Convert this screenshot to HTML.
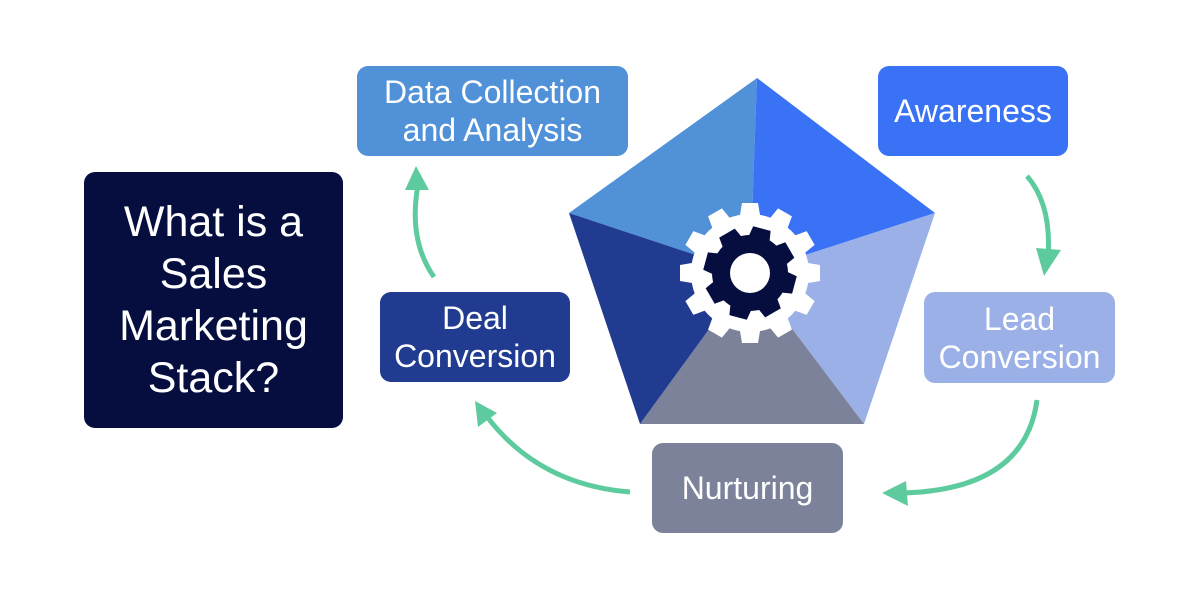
<!DOCTYPE html>
<html><head><meta charset="utf-8"><style>
body{margin:0;width:1200px;height:600px;background:#fff;overflow:hidden;position:relative;font-family:"Liberation Sans",sans-serif}
.b{position:absolute;border-radius:11px;color:#fff;display:flex;align-items:center;justify-content:center;text-align:center;font-size:32px;line-height:38px}
</style></head><body>
<svg width="1200" height="600" style="position:absolute;left:0;top:0">
<g>
<polygon points="757,78 750,273 569,213" fill="#5091d8"/>
<polygon points="757,78 935,213 750,273" fill="#3a72f5"/>
<polygon points="935,213 864,424 750,273" fill="#9ab0e6"/>
<polygon points="864,424 640,424 750,273" fill="#7b8299"/>
<polygon points="640,424 569,213 750,273" fill="#203b8f"/>
</g>
<g transform="translate(750,273)">
<circle r="59" fill="#fff"/>
<g fill="#fff">
<polygon points="-11,-52 11,-52 8,-70 -8,-70" transform="rotate(0)"/>
<polygon points="-11,-52 11,-52 8,-70 -8,-70" transform="rotate(30)"/>
<polygon points="-11,-52 11,-52 8,-70 -8,-70" transform="rotate(60)"/>
<polygon points="-11,-52 11,-52 8,-70 -8,-70" transform="rotate(90)"/>
<polygon points="-11,-52 11,-52 8,-70 -8,-70" transform="rotate(120)"/>
<polygon points="-11,-52 11,-52 8,-70 -8,-70" transform="rotate(150)"/>
<polygon points="-11,-52 11,-52 8,-70 -8,-70" transform="rotate(180)"/>
<polygon points="-11,-52 11,-52 8,-70 -8,-70" transform="rotate(210)"/>
<polygon points="-11,-52 11,-52 8,-70 -8,-70" transform="rotate(240)"/>
<polygon points="-11,-52 11,-52 8,-70 -8,-70" transform="rotate(270)"/>
<polygon points="-11,-52 11,-52 8,-70 -8,-70" transform="rotate(300)"/>
<polygon points="-11,-52 11,-52 8,-70 -8,-70" transform="rotate(330)"/>
</g>
<circle r="38" fill="#050e3f"/>
<g fill="#050e3f">
<polygon points="-11,-34 11,-34 9,-46 -9,-46" transform="rotate(15)"/>
<polygon points="-11,-34 11,-34 9,-46 -9,-46" transform="rotate(60)"/>
<polygon points="-11,-34 11,-34 9,-46 -9,-46" transform="rotate(105)"/>
<polygon points="-11,-34 11,-34 9,-46 -9,-46" transform="rotate(150)"/>
<polygon points="-11,-34 11,-34 9,-46 -9,-46" transform="rotate(195)"/>
<polygon points="-11,-34 11,-34 9,-46 -9,-46" transform="rotate(240)"/>
<polygon points="-11,-34 11,-34 9,-46 -9,-46" transform="rotate(285)"/>
<polygon points="-11,-34 11,-34 9,-46 -9,-46" transform="rotate(330)"/>
</g>
<circle r="20" fill="#fff"/>
</g>
<g fill="none" stroke="#5ecb9e" stroke-width="5">
<path d="M1027,176 Q1052,205 1048,258"/>
<path d="M1037,400 Q1025,490 902,493"/>
<path d="M630,492 Q540,485 488,418"/>
<path d="M434,277 Q408,240 418,185"/>
</g>
<g fill="#5ecb9e">
<polygon points="1036,248 1061,250 1044,276"/>
<polygon points="906,481 908,506 882,493"/>
<polygon points="478,427 497,413 475,401"/>
<polygon points="405,190 429,190 416,166"/>
</g>
</svg>
<div class="b" style="left:84px;top:172px;width:259px;height:256px;background:#050e3f;font-size:43px;line-height:52px">What is a<br>Sales<br>Marketing<br>Stack?</div>
<div class="b" style="left:357px;top:66px;width:271px;height:90px;background:#5091d8">Data Collection<br>and Analysis</div>
<div class="b" style="left:878px;top:66px;width:190px;height:90px;background:#3a72f5">Awareness</div>
<div class="b" style="left:380px;top:292px;width:190px;height:90px;background:#203b8f">Deal<br>Conversion</div>
<div class="b" style="left:924px;top:292px;width:191px;height:91px;background:#9ab0e6">Lead<br>Conversion</div>
<div class="b" style="left:652px;top:443px;width:191px;height:90px;background:#7b8299">Nurturing</div>
</body></html>
